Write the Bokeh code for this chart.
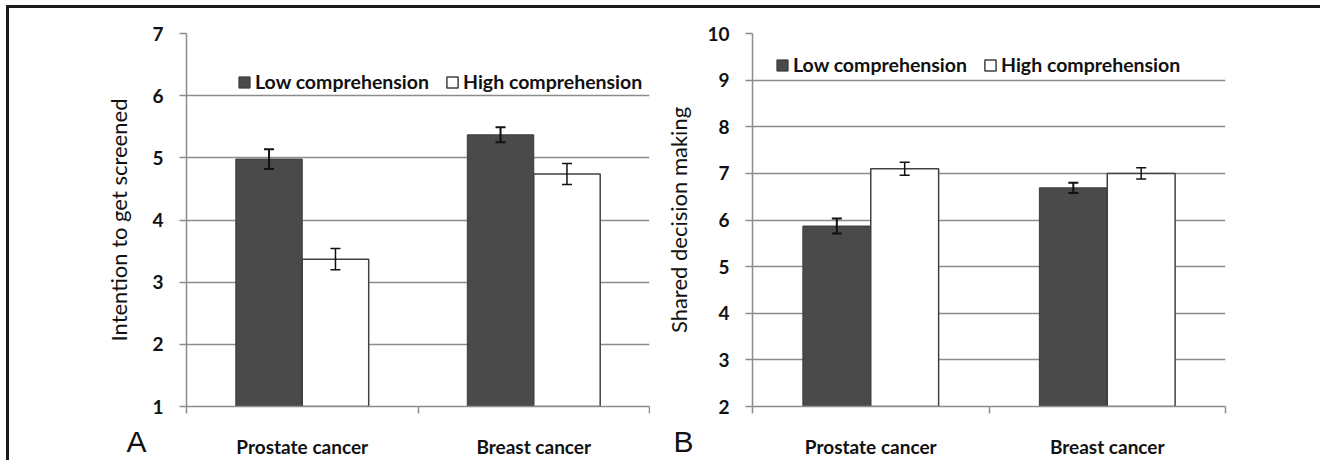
from bokeh.plotting import figure
from bokeh.models import (ColumnDataSource, Range1d, LinearAxis, FixedTicker, Whisker, TeeHead,
                          Legend, LegendItem)
from bokeh.transform import dodge
from bokeh.layouts import row
from bokeh.embed import file_html
from bokeh.resources import INLINE

categories = ["Prostate cancer", "Breast cancer"]
series_names = ["Low comprehension", "High comprehension"]

# Panel A: Intention to get screened
a_low = [4.98, 5.37]
a_low_err = [0.16, 0.12]
a_high = [3.37, 4.74]
a_high_err = [0.17, 0.17]

# Panel B: Shared decision making
b_low = [5.87, 6.69]
b_low_err = [0.16, 0.11]
b_high = [7.10, 7.00]
b_high_err = [0.14, 0.12]

GRID = "#8c8c8c"
DARK = "#4a4a4a"
FONT = "Lato"
BOLD_SIZE = "19px"


def panel(letter, ylabel, ymin, ymax, low, low_err, high, high_err,
          width, left, right, legend_loc, ylabel_standoff, letter_standoff):
    n = len(categories)
    centers = [i + 0.5 for i in range(n)]
    p = figure(x_range=Range1d(0, n), y_range=Range1d(ymin, ymax),
               width=width, height=452, output_backend="svg", toolbar_location=None,
               x_axis_location=None, y_axis_location=None,
               min_border_left=left, min_border_right=right,
               min_border_top=25, min_border_bottom=52)
    p.outline_line_color = None
    p.background_fill_color = "white"
    p.border_fill_color = "white"

    # y axis
    yax = LinearAxis(ticker=FixedTicker(ticks=list(range(ymin, ymax + 1))))
    yax.axis_line_color = GRID
    yax.axis_line_width = 1.5
    yax.major_tick_line_color = GRID
    yax.major_tick_line_width = 1.5
    yax.major_tick_out = 7
    yax.major_tick_in = 0
    yax.minor_tick_line_color = None
    yax.major_label_text_font = FONT
    yax.major_label_text_font_style = "bold"
    yax.major_label_text_font_size = BOLD_SIZE
    yax.major_label_text_color = "#111111"
    yax.major_label_standoff = 16
    yax.axis_label = ylabel
    yax.axis_label_text_font = FONT
    yax.axis_label_text_font_style = "normal"
    yax.axis_label_text_font_size = "22px"
    yax.axis_label_text_color = "#111111"
    yax.axis_label_standoff = ylabel_standoff
    p.add_layout(yax, "left")

    # outer left axis carrying only the panel letter below the plot's bottom-left corner
    lax = LinearAxis(ticker=FixedTicker(ticks=[ymin]),
                     major_label_overrides={ymin: "\n\n" + letter})
    lax.axis_line_color = None
    lax.major_tick_line_color = None
    lax.minor_tick_line_color = None
    lax.major_tick_out = 0
    lax.major_tick_in = 0
    lax.major_label_standoff = letter_standoff
    lax.major_label_text_font = "Liberation Sans"
    lax.major_label_text_font_size = "30px"
    lax.major_label_text_line_height = 1.2
    lax.major_label_text_color = "#111111"
    p.add_layout(lax, "left")

    # x axis: category labels at centres, ticks at category boundaries
    xax = LinearAxis(ticker=FixedTicker(ticks=centers, minor_ticks=list(range(n + 1))),
                     major_label_overrides={c: lab for c, lab in zip(centers, categories)})
    xax.axis_line_color = GRID
    xax.axis_line_width = 1.5
    xax.major_tick_line_color = None
    xax.major_tick_out = 0
    xax.major_tick_in = 0
    xax.minor_tick_line_color = GRID
    xax.minor_tick_line_width = 1.5
    xax.minor_tick_out = 7
    xax.minor_tick_in = 0
    xax.major_label_text_font = FONT
    xax.major_label_text_font_style = "bold"
    xax.major_label_text_font_size = BOLD_SIZE
    xax.major_label_text_color = "#111111"
    xax.major_label_standoff = 21
    p.add_layout(xax, "below")

    p.ygrid.grid_line_color = GRID
    p.ygrid.grid_line_width = 1.5
    p.ygrid.ticker = FixedTicker(ticks=list(range(ymin, ymax + 1)))
    p.xgrid.grid_line_color = None

    src_low = ColumnDataSource(dict(x=centers, val=low,
                                    lo=[v - e for v, e in zip(low, low_err)],
                                    hi=[v + e for v, e in zip(low, low_err)]))
    src_high = ColumnDataSource(dict(x=centers, val=high,
                                     lo=[v - e for v, e in zip(high, high_err)],
                                     hi=[v + e for v, e in zip(high, high_err)]))
    off = 0.1435
    bw = 0.287
    r_low = p.vbar(x=dodge("x", -off), top="val", bottom=ymin, width=bw,
                   source=src_low, fill_color=DARK, line_color="#3a3a3a", line_width=1)
    r_high = p.vbar(x=dodge("x", off), top="val", bottom=ymin, width=bw,
                    source=src_high, fill_color="white", line_color="#404040", line_width=1.5)

    for src, o, lw in ((src_low, -off, 2), (src_high, off, 1.5)):
        w = Whisker(source=src, base=dodge("x", o), upper="hi", lower="lo",
                    dimension="height", line_color="#111111", line_width=lw, level="overlay",
                    upper_head=TeeHead(size=10, line_color="#111111", line_width=lw),
                    lower_head=TeeHead(size=10, line_color="#111111", line_width=lw))
        p.add_layout(w)

    legend = Legend(items=[LegendItem(label=series_names[0], renderers=[r_low]),
                           LegendItem(label=series_names[1], renderers=[r_high])],
                    orientation="horizontal", location=legend_loc,
                    glyph_width=14, glyph_height=14, label_standoff=4, spacing=16,
                    label_height=20, padding=0, margin=0, border_line_color=None,
                    background_fill_alpha=0,
                    label_text_font=FONT, label_text_font_style="bold",
                    label_text_font_size="19.5px", label_text_color="#111111")
    p.add_layout(legend)
    return p


pA = panel("A", "Intention to get screened", 1, 7, a_low, a_low_err, a_high, a_high_err,
           641, 177, 1, (51, 313), 17, -44)
pB = panel("B", "Shared decision making", 2, 10, b_low, b_low_err, b_high, b_high_err,
           670, 102, 95, (23, 330), 12, -31)

layout = row(pA, pB, styles={"border-top": "3px solid #1a1a1a",
                             "border-left": "3px solid #1a1a1a",
                             "box-sizing": "content-box",
                             "margin-top": "5px", "margin-left": "6px"})

open("out.html", "w").write(file_html(layout, INLINE))
